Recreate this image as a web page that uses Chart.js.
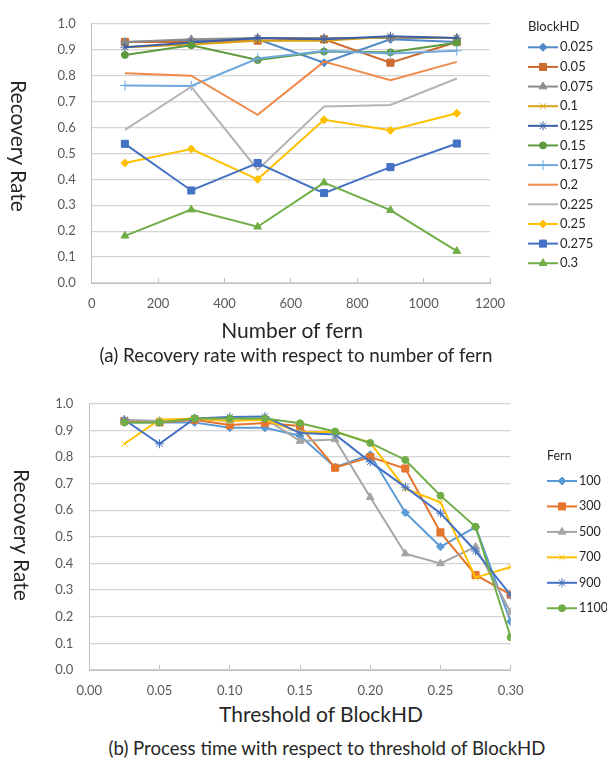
<!DOCTYPE html>
<html>
<head>
<meta charset="utf-8">
<script src="https://cdn.jsdelivr.net/npm/chart.js@4.4.1/dist/chart.umd.min.js"></script>
<style>
  html, body { margin: 0; padding: 0; background: #fff; }
  #page { position: relative; width: 607px; height: 758px; overflow: hidden; font-family: Lato, "Open Sans", sans-serif; color: #262626; }
  canvas { position: absolute; left: 0; }
  .txt { position: absolute; white-space: nowrap; transform: translate(-50%, -50%); }
  .vert { transform: translate(-50%, -50%) rotate(90deg); }
</style>
</head>
<body>
<div id="page">
  <canvas id="chart-fern" width="607" height="320" style="top:0"></canvas>
  <canvas id="chart-blockhd" width="607" height="320" style="top:380px"></canvas>

  <div class="txt vert" style="left:19px; top:146px; font-size:21px">Recovery Rate</div>
  <div class="txt" style="left:292px; top:329px; font-size:21px">Number of fern</div>
  <div class="txt" style="left:296px; top:354px; font-size:18.8px">(a) Recovery rate with respect to number of fern</div>

  <div class="txt vert" style="left:22px; top:535px; font-size:21px">Recovery Rate</div>
  <div class="txt" style="left:321px; top:713px; font-size:21px">Threshold of BlockHD</div>
  <div class="txt" style="left:327px; top:748px; font-size:18.6px">(b) Process time with respect to threshold of BlockHD</div>
</div>

<script>
// categories
const ferns = [100, 300, 500, 700, 900, 1100];
const blockhd = [0.025, 0.05, 0.075, 0.1, 0.125, 0.15, 0.175, 0.2, 0.225, 0.25, 0.275, 0.3];

// recovery rate per BlockHD threshold, one value per fern count
const bhd025 = [0.93, 0.935, 0.94, 0.85, 0.94, 0.93];
const bhd050 = [0.93, 0.93, 0.935, 0.94, 0.85, 0.93];
const bhd075 = [0.93, 0.94, 0.945, 0.945, 0.945, 0.945];
const bhd100 = [0.91, 0.92, 0.935, 0.935, 0.95, 0.945];
const bhd125 = [0.91, 0.928, 0.945, 0.94, 0.952, 0.945];
const bhd150 = [0.88, 0.917, 0.86, 0.893, 0.89, 0.927];
const bhd175 = [0.762, 0.76, 0.866, 0.895, 0.885, 0.896];
const bhd200 = [0.809, 0.80, 0.649, 0.854, 0.782, 0.853];
const bhd225 = [0.591, 0.757, 0.437, 0.681, 0.687, 0.789];
const bhd250 = [0.463, 0.517, 0.40, 0.63, 0.589, 0.655];
const bhd275 = [0.537, 0.357, 0.463, 0.347, 0.447, 0.538];
const bhd300 = [0.182, 0.283, 0.217, 0.387, 0.281, 0.123];

// tick labels
const fernTicks = [0, 200, 400, 600, 800, 1000, 1200];
const bhdTicks = [0, 0.05, 0.1, 0.15, 0.2, 0.25, 0.3];
const rateTicks = [0, 0.1, 0.2, 0.3, 0.4, 0.5, 0.6, 0.7, 0.8, 0.9, 1.0];

const rows = [bhd025, bhd050, bhd075, bhd100, bhd125, bhd150, bhd175, bhd200, bhd225, bhd250, bhd275, bhd300];

// marker style per series
const fernStyles = [
  { color: '#5088C8', style: 'rectRot', r: 4 },
  { color: '#CC6A30', style: 'rect', r: 5 },
  { color: '#8C8C8C', style: 'triangle', r: 4.5 },
  { color: '#D9A416', style: 'crossRot', r: 4 },
  { color: '#3C5FA8', style: 'star', r: 4.5 },
  { color: '#5E9A3F', style: 'circle', r: 3.5 },
  { color: '#6FA8DC', style: 'cross', r: 5 },
  { color: '#F08A4B', style: 'circle', r: 0 },
  { color: '#B4B4B4', style: 'circle', r: 0 },
  { color: '#FFC000', style: 'rectRot', r: 4 },
  { color: '#4472C4', style: 'rect', r: 5 },
  { color: '#70AD47', style: 'triangle', r: 4.5 }
];
const bhdStyles = [
  { color: '#5B9BD5', style: 'rectRot', r: 4 },
  { color: '#E5752C', style: 'rect', r: 5 },
  { color: '#A5A5A5', style: 'triangle', r: 4.5 },
  { color: '#FFC000', style: 'crossRot', r: 4 },
  { color: '#4472C4', style: 'star', r: 4.5 },
  { color: '#70AD47', style: 'circle', r: 3.5 }
];

function makeDataset(label, xs, ys, st, i, n) {
  return {
    label: label,
    data: xs.map((x, k) => ({ x: x, y: ys[k] })),
    borderColor: st.color,
    backgroundColor: st.color,
    borderWidth: 2,
    pointStyle: st.style,
    pointRadius: st.r,
    pointBorderWidth: 1,
    pointBackgroundColor: st.color,
    pointBorderColor: st.color,
    tension: 0,
    order: n - i
  };
}

// legend drawn at the right like the original spreadsheet chart
const sideLegend = {
  id: 'sideLegend',
  afterDraw(chart, args, opts) {
    const ctx = chart.ctx;
    ctx.save();
    ctx.font = opts.size + 'px Lato, "Open Sans", sans-serif';
    ctx.textBaseline = 'middle';
    ctx.textAlign = 'left';
    ctx.fillStyle = '#262626';
    ctx.fillText(opts.title, opts.x, opts.titleY);
    chart.data.datasets.forEach((ds, i) => {
      const y = opts.y0 + i * opts.dy;
      ctx.strokeStyle = ds.borderColor;
      ctx.lineWidth = 2;
      ctx.beginPath();
      ctx.moveTo(opts.x, y);
      ctx.lineTo(opts.x + 30, y);
      ctx.stroke();
      if (ds.pointRadius > 0) {
        ctx.fillStyle = ds.pointBackgroundColor;
        ctx.strokeStyle = ds.pointBorderColor;
        ctx.lineWidth = 1;
        Chart.helpers.drawPoint(ctx, { pointStyle: ds.pointStyle, radius: ds.pointRadius, rotation: 0, borderWidth: 1 }, opts.x + 15, y);
      }
      ctx.fillStyle = '#262626';
      ctx.fillText(ds.label, opts.x + 32, y);
    });
    ctx.restore();
  }
};

function fixedTicks(arr) {
  return function(scale) { scale.ticks = arr.map(v => ({ value: v })); };
}

function makeOptions(p) {
  return {
    responsive: false,
    animation: false,
    layout: { autoPadding: false, padding: { left: 0, top: p.top, right: p.right, bottom: p.bottom } },
    plugins: {
      legend: { display: false },
      tooltip: { enabled: false },
      sideLegend: p.legend
    },
    scales: {
      x: {
        type: 'linear',
        min: p.xTicks[0],
        max: p.xTicks[p.xTicks.length - 1],
        afterBuildTicks: fixedTicks(p.xTicks),
        afterFit(scale) { scale.height = 30; },
        grid: { drawOnChartArea: false, drawTicks: true, tickLength: -5, color: '#bfbfbf' },
        border: { color: '#bfbfbf', width: 1 },
        ticks: { padding: 18, color: '#595959', font: { size: 13, family: 'Lato, "Open Sans", sans-serif' }, maxRotation: 0, callback: p.xFmt }
      },
      y: {
        min: 0,
        max: 1,
        afterBuildTicks: fixedTicks(rateTicks),
        afterFit(scale) { scale.width = p.left; },
        grid: { drawTicks: false, color: '#d4d4d4', lineWidth: 1.3 },
        border: { color: '#bfbfbf', width: 1 },
        ticks: { padding: 16, color: '#595959', font: { size: 13, family: 'Lato, "Open Sans", sans-serif' }, callback: v => v.toFixed(1) }
      }
    }
  };
}

// (a) recovery rate vs number of fern, one line per BlockHD
new Chart(document.getElementById('chart-fern'), {
  type: 'line',
  data: {
    datasets: rows.map((r, i) => makeDataset(String(blockhd[i]), ferns, r, fernStyles[i], i, rows.length))
  },
  options: makeOptions({
    top: 20, right: 117, bottom: 7, left: 91.7,
    xTicks: fernTicks,
    xFmt: v => String(v),
    legend: { title: 'BlockHD', size: 13, x: 528, titleY: 27, y0: 47.3, dy: 19.63 }
  }),
  plugins: [sideLegend]
});

// (b) recovery rate vs BlockHD threshold, one line per fern count
new Chart(document.getElementById('chart-blockhd'), {
  type: 'line',
  data: {
    datasets: ferns.map((f, j) => makeDataset(String(f), blockhd, rows.map(r => r[j]), bhdStyles[j], j, ferns.length))
  },
  options: makeOptions({
    top: 19.5, right: 96.3, bottom: 0, left: 89.3,
    xTicks: bhdTicks,
    xFmt: v => v.toFixed(2),
    legend: { title: 'Fern', size: 12.5, x: 547, titleY: 76, y0: 101, dy: 25.45 }
  }),
  plugins: [sideLegend]
});
</script>
</body>
</html>
